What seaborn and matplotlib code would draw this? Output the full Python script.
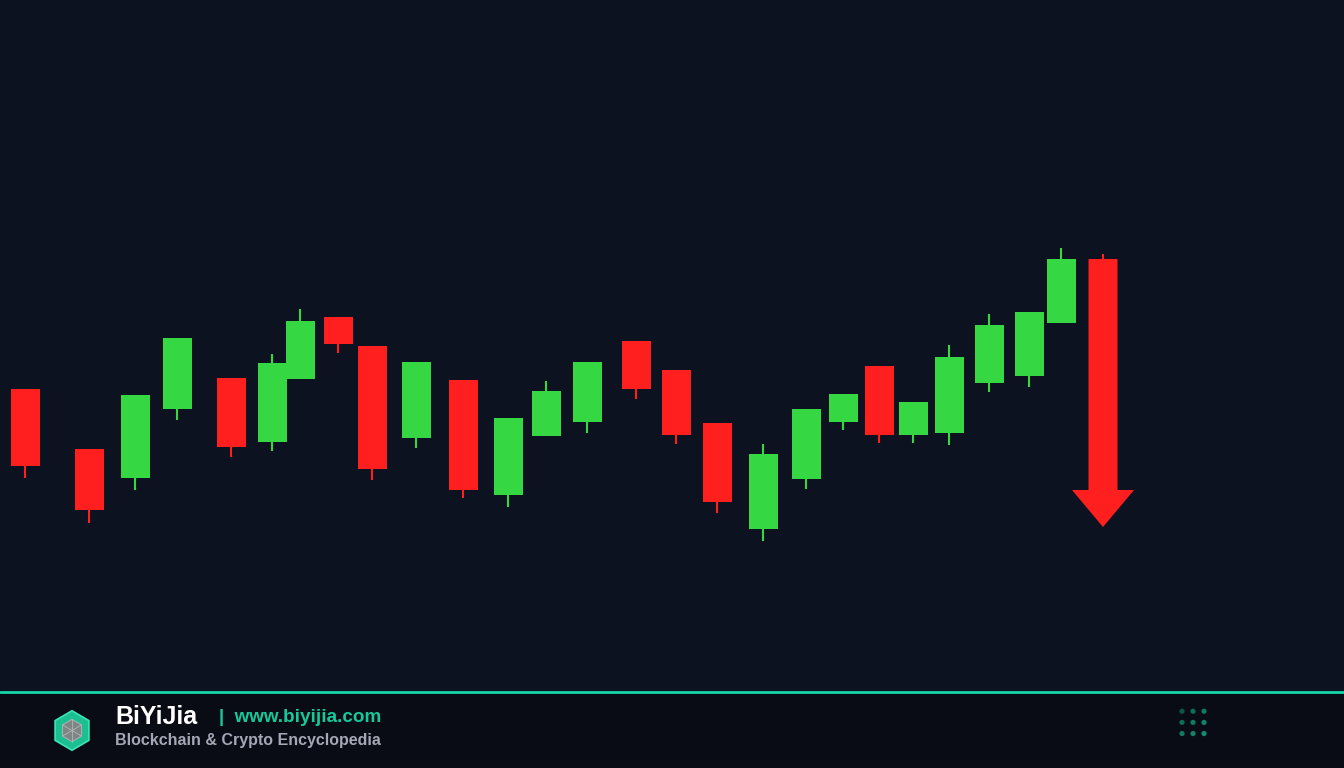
import matplotlib.pyplot as plt
import seaborn as sns
import pandas as pd
from matplotlib.patches import RegularPolygon, Polygon
from matplotlib.lines import Line2D

# candle data (time index, open, high, low, close)
t = [25, 89, 135, 177, 231, 272, 300, 338, 372, 416, 463, 508, 546,
     587, 636, 676, 717, 763, 806, 843, 879, 913, 949, 989, 1029, 1061]
opens = [30.3, 24.3, 21.4, 28.3, 31.4, 25.0, 31.3, 37.5, 34.6, 25.4, 31.2, 19.7, 25.6,
         27.0, 35.1, 32.2, 26.9, 16.3, 21.3, 27.0, 32.6, 25.7, 25.9, 30.9, 31.6, 36.9]
closes = [22.6, 18.2, 29.7, 35.4, 24.5, 32.9, 37.1, 34.8, 22.3, 33.0, 20.2, 27.4, 30.1,
          33.0, 30.3, 25.7, 19.0, 23.8, 28.3, 29.8, 25.7, 29.0, 33.5, 36.7, 38.0, 43.3]
highs = [30.3, 24.3, 29.7, 35.4, 31.4, 33.8, 38.3, 37.5, 34.6, 33.0, 31.2, 27.4, 31.1,
         33.0, 35.1, 32.2, 26.9, 24.8, 28.3, 29.8, 32.6, 29.0, 34.7, 37.8, 38.0, 44.4]
lows = [21.4, 16.9, 20.2, 27.2, 23.5, 24.1, 31.3, 33.9, 21.2, 24.4, 19.4, 18.5, 25.6,
        25.9, 29.3, 24.8, 17.9, 15.1, 20.3, 26.2, 24.9, 24.9, 24.7, 30.0, 30.5, 36.9]

# the final drop, drawn as an arrow
arrow_t = 1103
arrow_open = 43.3
arrow_high = 43.8
arrow_head = 20.2
arrow_tip = 16.5

df = pd.DataFrame({"t": t, "open": opens, "close": closes, "high": highs, "low": lows})
df["up"] = df["close"] >= df["open"]

GREEN = "#35d843"
RED = "#ff1f1f"
BG = "#0c1220"
FOOT = "#090c15"
TEAL = "#16c99a"

sns.set_theme(style="dark", rc={"axes.facecolor": BG, "figure.facecolor": FOOT})
plt.rcParams["font.family"] = ["Liberation Sans", "DejaVu Sans"]

fig = plt.figure(figsize=(13.44, 7.68), dpi=100)
ax = fig.add_axes([0, 76 / 768, 1, 692 / 768])
ax.set_facecolor(BG)
ax.set_xlim(0, 1344)
ax.set_ylim(0, 69.2)
ax.set_xticks([])
ax.set_yticks([])
ax.grid(False)
sns.despine(ax=ax, left=True, bottom=True)

w = 29
colors = [GREEN if u else RED for u in df["up"]]
ax.vlines(df["t"], df["low"], df["high"], colors=colors, lw=1.5, zorder=2)
bottoms = df[["open", "close"]].min(axis=1)
heights = (df["close"] - df["open"]).abs()
ax.bar(df["t"], heights, width=w, bottom=bottoms, color=colors, zorder=3, linewidth=0)

# arrow candle
ax.vlines(arrow_t, arrow_open, arrow_high, colors=RED, lw=1.5, zorder=2)
hw = w / 2
head = 31
ax.add_patch(Polygon([(arrow_t - hw, arrow_open), (arrow_t + hw, arrow_open),
                      (arrow_t + hw, arrow_head), (arrow_t + head, arrow_head),
                      (arrow_t, arrow_tip), (arrow_t - head, arrow_head),
                      (arrow_t - hw, arrow_head)], closed=True, color=RED, lw=0, zorder=3))

# footer
fig.add_artist(Line2D([0, 1], [76 / 768, 76 / 768], color="#19d6a6", lw=2))
fx = fig.add_axes([0, 0, 1, 75 / 768])
fx.set_xlim(0, 1344)
fx.set_ylim(767, 693)
fx.axis("off")

fx.add_patch(RegularPolygon((72, 730), 6, radius=19.5, orientation=0,
                            facecolor="#1bbf92", edgecolor="#3be6b6", lw=1.2))
fx.add_patch(RegularPolygon((72, 730), 6, radius=11, orientation=0,
                            facecolor="#7f8585", edgecolor="#a8b0b0", lw=0.8))
fx.plot([72, 72], [719, 741], color="#b0b8b8", lw=0.6)
fx.plot([62.5, 81.5], [724.5, 735.5], color="#b0b8b8", lw=0.6)
fx.plot([62.5, 81.5], [735.5, 724.5], color="#b0b8b8", lw=0.6)

fx.text(115, 717, "BiYiJia", color="white", fontsize=18, fontweight="bold", va="center", ha="left")
fx.text(219, 717, "|  www.biyijia.com", color=TEAL, fontsize=13.6, fontweight="bold",
        va="center", ha="left")
fx.text(115, 740, "Blockchain & Crypto Encyclopedia", color="#a4a8b6", fontsize=11.5,
        fontweight="bold", va="center", ha="left")

dot_x = [1182, 1193, 1204] * 3
dot_y = [711] * 3 + [722] * 3 + [733] * 3
dot_c = ["#0c5646", "#0e6e57", "#0f7a60", "#0e6b55", "#0f7a60", "#10836a",
         "#0f7c62", "#10856a", "#118e71"]
fx.scatter(dot_x, dot_y, s=14, c=dot_c, linewidths=0)

fig.savefig("out.png", dpi=100, facecolor=FOOT)
